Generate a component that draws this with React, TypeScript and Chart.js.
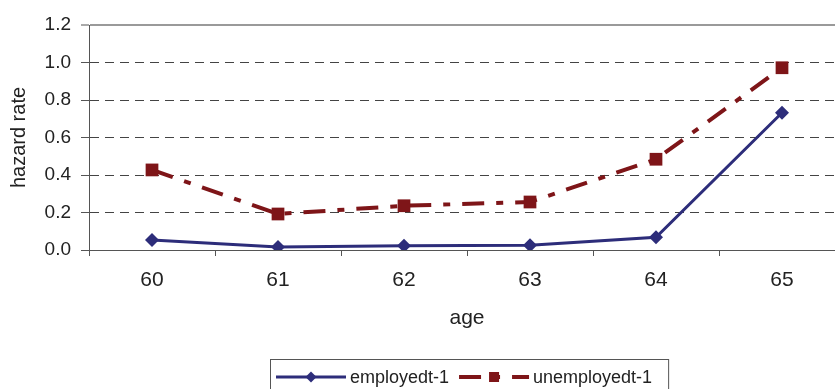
import { useEffect, useRef } from 'react';
import { Chart, registerables } from 'chart.js';

Chart.register(...registerables);

const ages = ['60', '61', '62', '63', '64', '65'];
const employed = [0.053, 0.016, 0.023, 0.025, 0.068, 0.732];
const unemployed = [0.427, 0.192, 0.236, 0.256, 0.484, 0.972];
const seriesLabels = ['employedt-1', 'unemployedt-1'];
const yMin = 0;
const yMax = 1.2;
const yStep = 0.2;

const FONT = "'Liberation Sans', Arial, sans-serif";
const NAVY = '#2D2D7A';
const RED = '#7E1518';

const boxLegend = {
  id: 'boxLegend',
  afterDraw(chart: any) {
    const ctx = chart.ctx as CanvasRenderingContext2D;
    ctx.save();
    ctx.font = `18px ${FONT}`;
    ctx.textBaseline = 'middle';
    const y = 377;
    let x = 276;
    const L = 70;
    const startX = 270;
    chart.data.datasets.forEach((ds: any) => {
      ctx.save();
      ctx.strokeStyle = ds.borderColor;
      ctx.lineWidth = ds.borderWidth;
      ctx.setLineDash(ds.borderDash || []);
      ctx.beginPath();
      ctx.moveTo(x, y);
      ctx.lineTo(x + L, y);
      ctx.stroke();
      ctx.setLineDash([]);
      const cx = x + L / 2;
      ctx.fillStyle = ds.pointBackgroundColor;
      ctx.beginPath();
      if (ds.pointStyle === 'rectRot') {
        const r = 5.5;
        ctx.moveTo(cx, y - r);
        ctx.lineTo(cx + r, y);
        ctx.lineTo(cx, y + r);
        ctx.lineTo(cx - r, y);
        ctx.closePath();
      } else {
        const s = 5;
        ctx.rect(cx - s, y - s, 2 * s, 2 * s);
      }
      ctx.fill();
      ctx.restore();
      ctx.fillStyle = '#222';
      ctx.fillText(ds.label, x + L + 4, y + 1);
      const w = ctx.measureText(ds.label).width;
      x = x + L + 4 + w + 10;
    });
    const endX = x - 10 + 16;
    ctx.strokeStyle = '#555';
    ctx.lineWidth = 1;
    ctx.strokeRect(startX + 0.5, 359.5, endX - startX, 40);
    ctx.restore();
  },
};

export default function App() {
  const ref = useRef<HTMLCanvasElement | null>(null);

  useEffect(() => {
    if (!ref.current) return;
    const chart = new Chart(ref.current, {
      type: 'line',
      data: {
        labels: ages,
        datasets: [
          {
            label: seriesLabels[0],
            data: employed,
            borderColor: NAVY,
            backgroundColor: NAVY,
            pointBackgroundColor: NAVY,
            pointBorderColor: NAVY,
            borderWidth: 3,
            pointStyle: 'rectRot',
            pointRadius: 7,
            pointBorderWidth: 0,
            tension: 0,
          },
          {
            label: seriesLabels[1],
            data: unemployed,
            borderColor: RED,
            backgroundColor: RED,
            pointBackgroundColor: RED,
            pointBorderColor: RED,
            borderWidth: 4,
            borderDash: [22, 12, 7, 12],
            pointStyle: 'rect',
            pointRadius: 9,
            pointBorderWidth: 0,
            tension: 0,
          },
        ],
      } as any,
      options: {
        responsive: false,
        animation: false,
        devicePixelRatio: 1,
        layout: { padding: { left: 0, top: 25, right: 25, bottom: 0 } },
        plugins: {
          legend: { display: false },
          tooltip: { enabled: false },
        },
        scales: {
          x: {
            type: 'category',
            offset: true,
            afterFit: (s: any) => {
              s.height = 139;
            },
            grid: {
              offset: true,
              drawOnChartArea: false,
              drawTicks: true,
              tickLength: 6,
              tickColor: '#555',
              tickWidth: 1,
            },
            border: { display: true, color: '#555', width: 1 },
            ticks: {
              color: '#222',
              padding: 12,
              font: { family: FONT, size: 21 },
            },
            title: {
              display: true,
              text: 'age',
              color: '#222',
              font: { family: FONT, size: 21 },
              padding: { top: 0, bottom: 58 },
            },
          },
          y: {
            min: yMin,
            max: yMax,
            afterFit: (s: any) => {
              s.width = 89;
            },
            ticks: {
              stepSize: yStep,
              color: '#222',
              padding: 10,
              font: { family: FONT, size: 19 },
              callback: (v: any) => Number(v).toFixed(1),
            },
            grid: {
              drawTicks: true,
              tickLength: 8,
              tickColor: '#555',
              tickWidth: 1,
              color: (c: any) => (c.index === 6 ? '#9a9a9a' : '#444'),
              lineWidth: (c: any) => (c.index === 6 ? 2 : 1),
            },
            border: {
              display: true,
              color: '#555',
              width: 1,
              dash: (c: any) => (c.type !== 'tick' || c.index === 6 ? [] : [9, 6]),
            },
            title: {
              display: true,
              text: 'hazard rate',
              color: '#222',
              font: { family: FONT, size: 20 },
              padding: { top: 7, bottom: 0 },
            },
          },
        },
      } as any,
      plugins: [boxLegend],
    });
    return () => chart.destroy();
  }, []);

  return (
    <div
      style={{
        position: 'absolute',
        left: 0,
        top: 0,
        width: 835,
        height: 389,
        overflow: 'hidden',
        background: '#fff',
      }}
    >
      <canvas ref={ref} width={870} height={389} style={{ display: 'block' }} />
    </div>
  );
}
